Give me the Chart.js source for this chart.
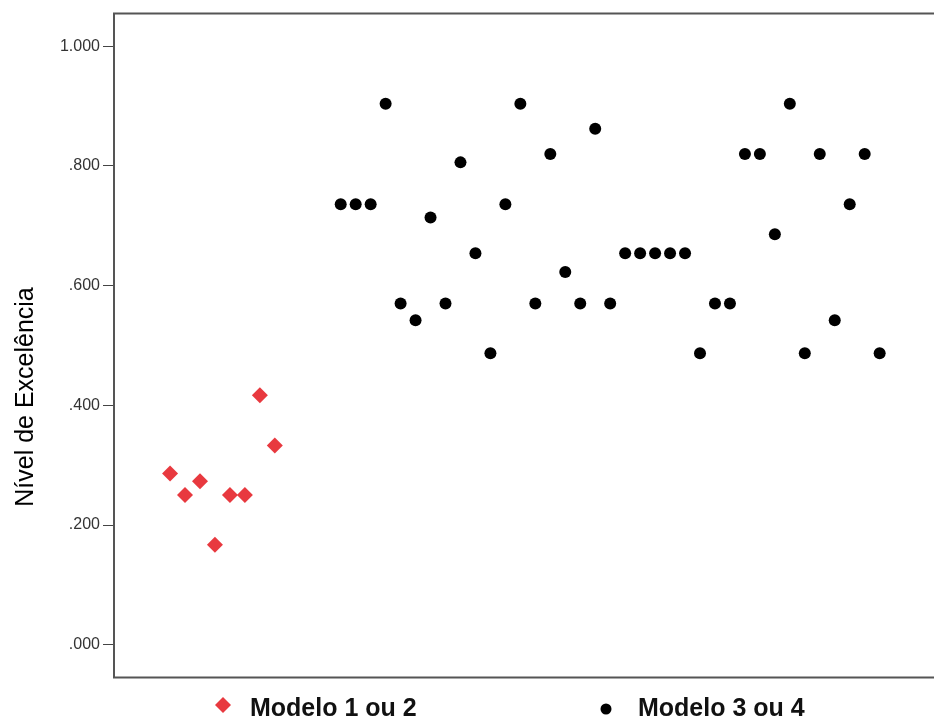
<!DOCTYPE html>
<html>
<head>
<meta charset="utf-8">
<script src="https://cdn.jsdelivr.net/npm/chart.js@4/dist/chart.umd.min.js"></script>
<style>
  html, body { margin: 0; padding: 0; background: #fff; overflow: hidden; }
  #wrap { width: 934px; height: 718px; position: relative; }
  canvas { display: block; }
</style>
</head>
<body>
<div id="wrap"><canvas id="scatter"></canvas></div>
<script>
// valores
const seriesNames = ["Modelo 1 ou 2", "Modelo 3 ou 4"];
const yTitle = "Nível de Excelência";
const yTickValues = [0, 0.2, 0.4, 0.6, 0.8, 1.0];
const yTickLabels = [".000", ".200", ".400", ".600", ".800", "1.000"];

const caseModelo12 = [1, 2, 3, 4, 5, 6, 7, 8];
const valModelo12 = [0.286, 0.25, 0.273, 0.167, 0.25, 0.25, 0.417, 0.333];

const caseModelo34 = [12.4, 13.4, 14.4, 15.4, 16.4, 17.4, 18.4, 19.4, 20.4, 21.4,
  22.4, 23.4, 24.4, 25.4, 26.4, 27.4, 28.4, 29.4, 30.4, 31.4,
  32.4, 33.4, 34.4, 35.4, 36.4, 37.4, 38.4, 39.4, 40.4, 41.4,
  42.4, 43.4, 44.4, 45.4, 46.4, 47.4, 48.4];
const valModelo34 = [0.736, 0.736, 0.736, 0.904, 0.570, 0.542, 0.714, 0.570, 0.806, 0.654,
  0.487, 0.736, 0.904, 0.570, 0.820, 0.623, 0.570, 0.862, 0.570, 0.654,
  0.654, 0.654, 0.654, 0.654, 0.487, 0.570, 0.570, 0.820, 0.820, 0.686,
  0.904, 0.487, 0.820, 0.542, 0.736, 0.820, 0.487];

const toPoints = (xs, ys) => xs.map((x, i) => ({ x: x, y: ys[i] }));

// moldura, título do eixo e legenda desenhados à mão
const extras = {
  id: "extras",
  afterDraw(chart) {
    const { ctx, chartArea: a } = chart;
    ctx.save();
    ctx.strokeStyle = "#555";
    ctx.lineWidth = 2;
    ctx.beginPath();
    ctx.moveTo(chart.width + 5, a.top + 0.5);
    ctx.lineTo(a.left + 1, a.top + 0.5);
    ctx.lineTo(a.left + 1, a.bottom - 0.5);
    ctx.lineTo(chart.width + 5, a.bottom - 0.5);
    ctx.stroke();

    ctx.fillStyle = "#000";
    ctx.font = "25px 'Liberation Sans', Arial, sans-serif";
    ctx.textAlign = "center";
    ctx.textBaseline = "alphabetic";
    ctx.translate(33, 397);
    ctx.rotate(-Math.PI / 2);
    ctx.fillText(yTitle, 0, 0);
    ctx.restore();

    const items = [
      { mx: 223, my: 705, tx: 250 },
      { mx: 606, my: 709, tx: 638 }
    ];
    ctx.save();
    items.forEach((it, i) => {
      const ds = chart.data.datasets[i];
      ctx.fillStyle = ds.backgroundColor;
      Chart.helpers.drawPoint(ctx, {
        pointStyle: ds.pointStyle,
        radius: i === 0 ? 8 : 5.5,
        borderWidth: 0
      }, it.mx, it.my);
      ctx.fillStyle = "#111";
      ctx.font = "bold 25px 'Liberation Sans', Arial, sans-serif";
      ctx.textAlign = "left";
      ctx.textBaseline = "alphabetic";
      ctx.fillText(seriesNames[i], it.tx, 716);
    });
    ctx.restore();
  }
};

new Chart(document.getElementById("scatter"), {
  type: "scatter",
  data: {
    datasets: [
      {
        label: seriesNames[0],
        data: toPoints(caseModelo12, valModelo12),
        pointStyle: "rectRot",
        pointRadius: 8,
        backgroundColor: "#e8393f",
        borderWidth: 0
      },
      {
        label: seriesNames[1],
        data: toPoints(caseModelo34, valModelo34),
        pointStyle: "circle",
        pointRadius: 6,
        backgroundColor: "#000",
        borderWidth: 0
      }
    ]
  },
  options: {
    responsive: true,
    maintainAspectRatio: false,
    animation: false,
    events: [],
    layout: { autoPadding: false, padding: { top: 13, right: 0, bottom: 0, left: 0 } },
    scales: {
      x: {
        type: "linear",
        min: -2.81,
        max: 52.03,
        ticks: { display: false },
        grid: { display: false },
        border: { display: false },
        afterFit(scale) { scale.height = 40; }
      },
      y: {
        min: -0.0556,
        max: 1.0556,
        afterBuildTicks(scale) {
          scale.ticks = yTickValues.map(v => ({ value: v }));
        },
        ticks: {
          padding: 3,
          color: "#333",
          font: { family: "'Liberation Sans', Arial, sans-serif", size: 16 },
          callback: (v, i) => yTickLabels[i]
        },
        grid: {
          drawOnChartArea: false,
          drawTicks: true,
          tickLength: 10,
          color: "#444"
        },
        border: { display: false },
        afterFit(scale) { scale.width = 113; }
      }
    },
    plugins: {
      legend: { display: false },
      tooltip: { enabled: false }
    }
  },
  plugins: [extras]
});
</script>
</body>
</html>
